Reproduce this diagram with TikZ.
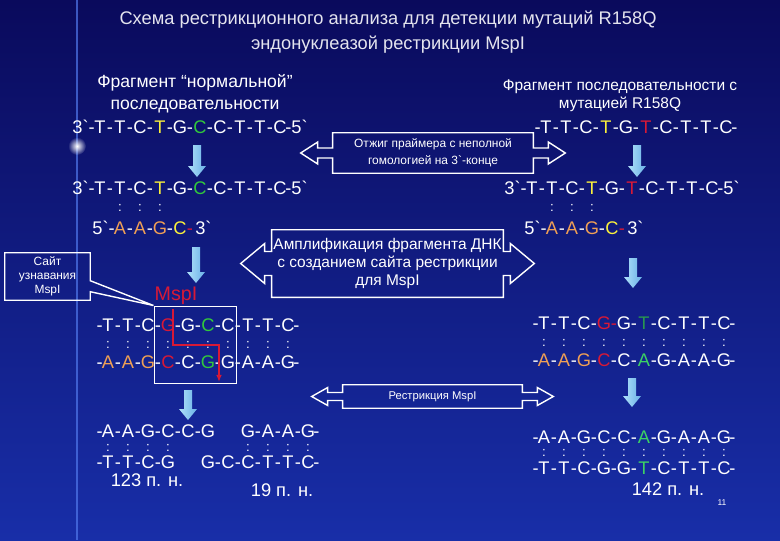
\documentclass[tikz,border=0pt]{standalone}
\usepackage{fontspec}
\setmainfont{Liberation Sans}[Ligatures=TeXOff]
\usetikzlibrary{arrows.meta,calc,fadings}
\definecolor{bgTop}{RGB}{10,10,92}
\definecolor{bgMid}{RGB}{14,22,125}
\definecolor{bgBot}{RGB}{24,46,168}
\definecolor{titleGray}{RGB}{228,228,238}
\definecolor{wt}{RGB}{255,255,255}
\definecolor{yl}{RGB}{250,240,60}
\definecolor{gn}{RGB}{50,200,60}
\definecolor{rd}{RGB}{215,25,55}
\definecolor{or}{RGB}{240,160,85}
\definecolor{dg}{RGB}{40,150,80}
\definecolor{lg}{RGB}{60,210,100}
\definecolor{arrLight}{RGB}{175,225,250}
\definecolor{arrDark}{RGB}{105,175,230}
\definecolor{flareBlue}{RGB}{80,120,235}
\tikzfading[name=hstreak,left color=transparent!100,middle color=transparent!0,right color=transparent!100]
\tikzfading[name=vstreak,top color=transparent!100,middle color=transparent!0,bottom color=transparent!100]
\tikzfading[name=glow,inner color=transparent!0,outer color=transparent!100]
% one strand: x of first letter, baseline, left end, letters (colour/char), right end
\newcommand\dna[5]{%
  \node[seq,anchor=base east] at (#1-5,#2) {#3};
  \foreach \c/\t [count=\k from 0] in {#4}{%
    \node[seq,anchor=base,text=\c] at (#1+10*\k,#2) {\t};
    \xdef\dnaend{\k}}
  \node[seq,anchor=base west] at (#1+10*\dnaend+5,#2) {#5};}
\newcommand\pairs[2]{%
  \foreach \x in {#2} \node[bond] at (\x,#1) {:};}
\newcommand\downarr[3]{%
  \shade[left color=arrLight,right color=arrDark] (#1-4,#2) -- (#1+4,#2) -- (#1+4,#3-11)
    -- (#1+9,#3-11) -- (#1,#3) -- (#1-9,#3-11) -- (#1-4,#3-11) -- cycle;}
\newcommand\callout[5]{%
  \draw[callline] (#1.north west) -- (#1.north east)
    -- ($(#1.east)+(0,-#2)$) -- ($(#1.east)+(#4,-#2)$) -- ($(#1.east)+(#4,-#3)$)
    -- ($(#1.east)+(#4+#5,0)$) -- ($(#1.east)+(#4,#3)$) -- ($(#1.east)+(#4,#2)$)
    -- ($(#1.east)+(0,#2)$) -- (#1.south east) -- (#1.south west)
    -- ($(#1.west)+(0,#2)$) -- ($(#1.west)+(-#4,#2)$) -- ($(#1.west)+(-#4,#3)$)
    -- ($(#1.west)+(-#4-#5,0)$) -- ($(#1.west)+(-#4,-#3)$) -- ($(#1.west)+(-#4,-#2)$)
    -- ($(#1.west)+(0,-#2)$) -- cycle;}
\begin{document}
\begin{tikzpicture}[x=0.025cm,y=-0.025cm,
    seq/.style={font=\fontsize{13}{15}\selectfont,text=white,inner sep=0pt},
    bond/.style={font=\fontsize{9.5}{11}\selectfont,text=white,inner sep=0pt},
    lbl/.style={text=white,align=center,inner sep=0pt},
    callline/.style={draw=white,line width=1pt},
    cut/.style={draw=rd,line width=1.8pt,-{Latex[length=5pt,width=4pt]}}]
  \useasboundingbox (0,0) rectangle (780,540);
  \shade[top color=bgTop,middle color=bgMid,bottom color=bgBot] (0,0) rectangle (780,540);
  \draw[flareBlue,line width=1.2pt,opacity=.7] (77,0) -- (77,540);
  \fill[white,path fading=hstreak] (0,144.5) rectangle (154,147.5);
  \fill[white,path fading=vstreak] (75.5,105) rectangle (78.5,187);
  \fill[white,path fading=glow] (77,146) circle (9);

  \node[lbl,text=titleGray,font=\fontsize{13}{17.8}\selectfont] (title) at (388,32)
    {Схема рестрикционного анализа для детекции мутаций R158Q\\эндонуклеазой рестрикции MspI};
  \node[lbl,font=\fontsize{12.5}{15.6}\selectfont] (normal) at (195,94)
    {Фрагмент “нормальной”\\последовательности};
  \node[lbl,font=\fontsize{11}{12.8}\selectfont] (mutant) at (620,96)
    {Фрагмент последовательности с\\мутацией R158Q};

  % normal sequence
  \dna{100}{133.5}{3`-}{wt/T,wt/-,wt/T,wt/-,wt/C,wt/-,yl/T,wt/-,wt/G,wt/-,gn/C,wt/-,wt/C,wt/-,wt/T,wt/-,wt/T,wt/-,wt/C}{-5`}
  \downarr{197}{145}{177}
  \dna{100}{194.5}{3`-}{wt/T,wt/-,wt/T,wt/-,wt/C,wt/-,yl/T,wt/-,wt/G,wt/-,gn/C,wt/-,wt/C,wt/-,wt/T,wt/-,wt/T,wt/-,wt/C}{-5`}
  \pairs{208}{120,140,160}
  \dna{120}{234.5}{5`-}{or/A,wt/-,or/A,wt/-,or/G,wt/-,yl/C,rd/-}{3`}
  \downarr{196}{247}{283}

  \node[text=rd,font=\fontsize{14}{16}\selectfont,inner sep=0pt] (mspName) at (176,296) {MspI};
  \node[draw=white,line width=0.7pt,minimum width=2.05cm,minimum height=1.925cm,inner sep=0pt] (msp) at (195,344.5) {};
  \dna{108}{331.5}{-}{wt/T,wt/-,wt/T,wt/-,wt/C,wt/-,rd/G,wt/-,wt/G,wt/-,gn/C,wt/-,wt/C,wt/-,wt/T,wt/-,wt/T,wt/-,wt/C}{-}
  \pairs{345}{108,128,...,288}
  \dna{108}{368.5}{-}{or/A,wt/-,or/A,wt/-,or/G,wt/-,rd/C,wt/-,wt/C,wt/-,gn/G,wt/-,wt/G,wt/-,wt/A,wt/-,wt/A,wt/-,wt/G}{-}
  \coordinate (cutTop) at (173,309);
  \coordinate (cutEnd) at (219,382);
  \draw[cut] (cutTop) -- (173,345) -| (cutEnd);

  \node[lbl,font=\fontsize{8.5}{10}\selectfont,minimum width=2.125cm,minimum height=1.175cm] (site) at (47.5,276.5)
    {Сайт\\узнавания\\MspI};
  \draw[callline] (site.north west) -- (site.north east) -- ($(site.north east)+(0,28)$) -- (msp.north west)
    -- ($(site.north east)+(0,39)$) -- (site.south east) -- (site.south west) -- cycle;

  \downarr{188}{390}{420}
  \dna{108}{437}{-}{wt/A,wt/-,wt/A,wt/-,wt/G,wt/-,wt/C,wt/-,wt/C,wt/-,wt/G,wt/{},wt/{},wt/{},wt/G,wt/-,wt/A,wt/-,wt/A,wt/-,wt/G}{-}
  \pairs{448}{108,128,148,168,248,268,288,308}
  \dna{108}{468}{-}{wt/T,wt/-,wt/T,wt/-,wt/C,wt/-,wt/G,wt/{},wt/{},wt/{},wt/G,wt/-,wt/C,wt/-,wt/C,wt/-,wt/T,wt/-,wt/T,wt/-,wt/C}{-}
  \node[seq] (len123) at (147,480) {123 п. н.};
  \node[seq] (len19) at (282,490) {19 п. н.};

  % mutant sequence
  \dna{546}{133.5}{-}{wt/T,wt/-,wt/T,wt/-,wt/C,wt/-,yl/T,wt/-,wt/G,wt/-,rd/T,wt/-,wt/C,wt/-,wt/T,wt/-,wt/T,wt/-,wt/C}{-}
  \downarr{637}{145}{177}
  \dna{532}{194.5}{3`-}{wt/T,wt/-,wt/T,wt/-,wt/C,wt/-,yl/T,wt/-,wt/G,wt/-,rd/T,wt/-,wt/C,wt/-,wt/T,wt/-,wt/T,wt/-,wt/C}{-5`}
  \pairs{208}{552,572,592}
  \dna{552}{234.5}{5`-}{or/A,wt/-,or/A,wt/-,or/G,wt/-,yl/C,rd/-}{3`}
  \downarr{633}{258}{288}

  \dna{544}{329.5}{-}{wt/T,wt/-,wt/T,wt/-,wt/C,wt/-,rd/G,rd/-,wt/G,wt/-,dg/T,wt/-,wt/C,wt/-,wt/T,wt/-,wt/T,wt/-,wt/C}{-}
  \pairs{343}{544,564,...,724}
  \dna{544}{366.5}{-}{or/A,wt/-,or/A,wt/-,or/G,wt/-,rd/C,wt/-,wt/C,wt/-,lg/A,wt/-,wt/G,wt/-,wt/A,wt/-,wt/A,wt/-,wt/G}{-}
  \downarr{632}{378}{407}

  \dna{544}{443.5}{-}{wt/A,wt/-,wt/A,wt/-,wt/G,wt/-,wt/C,wt/-,wt/C,wt/-,lg/A,wt/-,wt/G,wt/-,wt/A,wt/-,wt/A,wt/-,wt/G}{-}
  \pairs{453}{544,564,...,724}
  \dna{544}{474.5}{-}{wt/T,wt/-,wt/T,wt/-,wt/C,wt/-,wt/G,wt/-,wt/G,wt/-,lg/T,wt/-,wt/C,wt/-,wt/T,wt/-,wt/T,wt/-,wt/C}{-}
  \node[seq] (len142) at (668,489) {142 п. н.};

  % callouts in the middle
  \node[lbl,font=\fontsize{8.5}{12}\selectfont,minimum width=5cm,minimum height=1cm] (anneal) at (433,153)
    {Отжиг праймера с неполной\\гомологией на 3`-конце};
  \callout{anneal}{5}{11}{15}{17}
  \node[lbl,font=\fontsize{11}{12.8}\selectfont,minimum width=5.775cm,minimum height=1.675cm] (ampl) at (387.5,263.5)
    {Амплификация фрагмента ДНК\\с созданием сайта рестрикции\\для MspI};
  \callout{ampl}{12}{20}{7}{24}
  \node[lbl,font=\fontsize{8}{10}\selectfont,minimum width=4.475cm,minimum height=0.575cm] (restr) at (432.5,396.5)
    {Рестрикция MspI};
  \callout{restr}{4}{9}{15}{16}

  \node[lbl,font=\fontsize{6}{7}\selectfont] (page) at (722,503) {11};
\end{tikzpicture}
\end{document}
